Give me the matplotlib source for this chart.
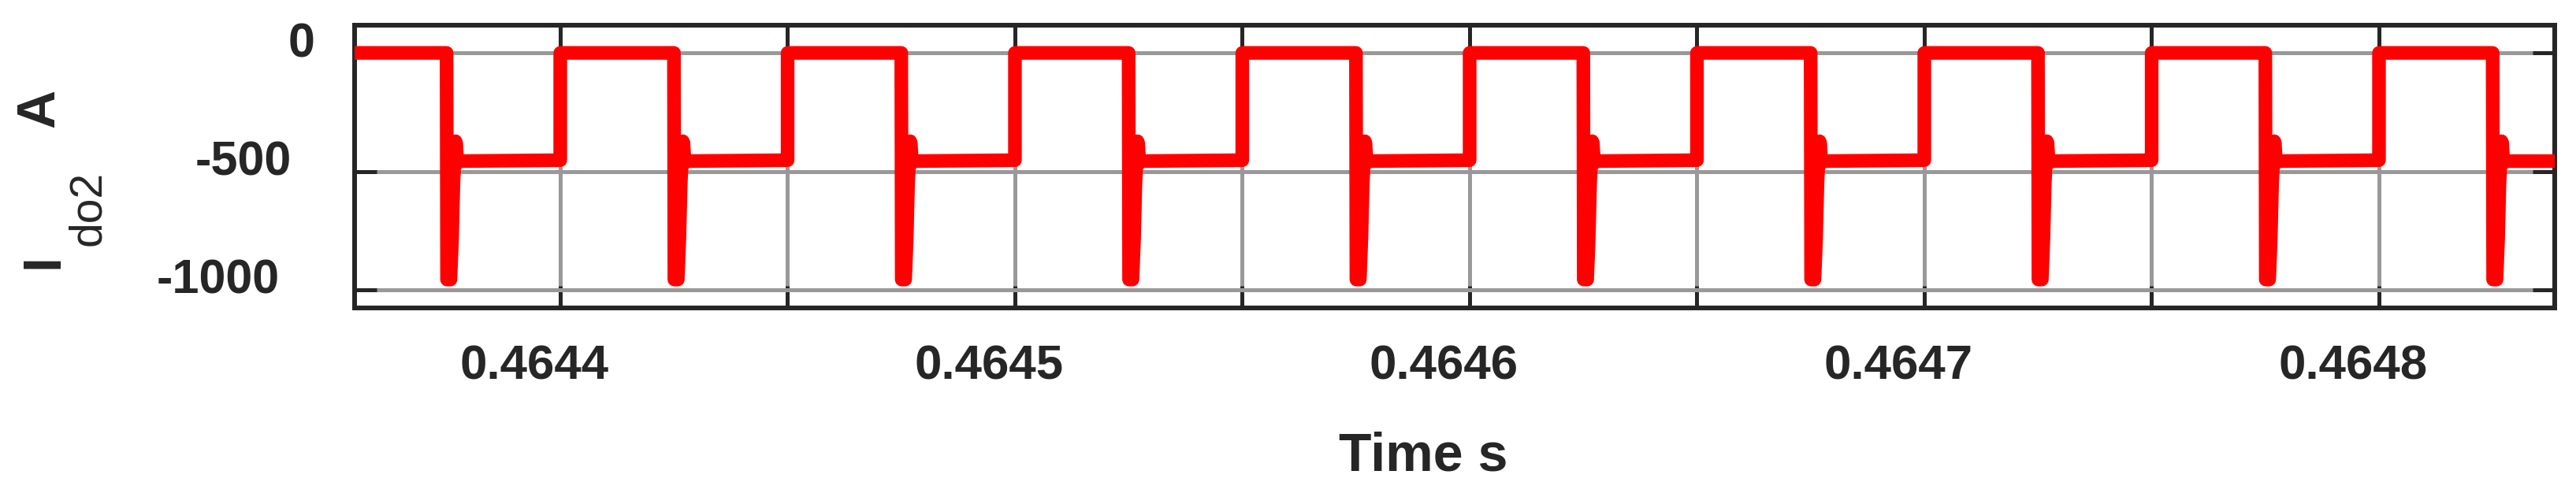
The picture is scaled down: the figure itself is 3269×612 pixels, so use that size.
import numpy as np
import matplotlib
matplotlib.use("Agg")
import matplotlib.pyplot as plt
from matplotlib.transforms import ScaledTranslation

# switching instants (s)
fall_times = [0.464375, 0.464425, 0.464475, 0.464525, 0.464575,
              0.464625, 0.464675, 0.464725, 0.464775, 0.464825]
rise_times = [0.4644, 0.46445, 0.4645, 0.46455, 0.4646,
              0.46465, 0.4647, 0.46475, 0.4648]
# commutation spike right after each falling edge (offset in us, current in A)
spike_dt_us = [0.0, 0.1, 0.85, 1.2, 1.5, 1.95, 2.1, 2.35, 2.7]
spike_amp = [0, -957, -957, -785, -552, -373, -380, -465, -457]
low_level_end = -453     # current just before the rising edge
high_level = 0
trace_start, trace_end = 0.46435, 0.46485

yticks = [0, -500, -1000]
ytick_labels = ["0", "-500", "-1000"]
xticks = [0.4644, 0.46445, 0.4645, 0.46455, 0.4646,
          0.46465, 0.4647, 0.46475, 0.4648]
xlabel_ticks = [0.4644, 0.4645, 0.4646, 0.4647, 0.4648]
xtick_labels = ["0.4644", "0.4645", "0.4646", "0.4647", "0.4648"]

W, H, DPI = 3269, 612, 100
TXT = "#262626"
plt.rcParams["font.family"] = ["Liberation Sans", "DejaVu Sans"]

# stitch the waveform together from the edges and the spike shape
t = [trace_start]
cur = [high_level]
for k, f in enumerate(fall_times):
    for dt, a in zip(spike_dt_us, spike_amp):
        t.append(f + dt * 1e-6)
        cur.append(a)
    if k < len(rise_times):
        r = rise_times[k]
        t += [r, r]
        cur += [low_level_end, high_level]
t.append(trace_end)
cur.append(spike_amp[-1])

fig = plt.figure(figsize=(W / DPI, H / DPI), dpi=DPI)
ax = fig.add_axes([450 / W, 1 - 391 / H, (3242 - 450) / W, (391 - 32) / H])

ax.plot(t, cur, color="#ff0000", linewidth=12.5,
        solid_joinstyle="round", solid_capstyle="round", zorder=3)

ax.set_xlim(0.46435477, 0.46483865)
ax.set_ylim(-1077, 117)
ax.set_xticks(xticks)
ax.set_yticks(yticks)
ax.grid(True, color="#999999", linewidth=3.6)
ax.set_axisbelow(True)
ax.tick_params(direction="in", length=20, width=3.6, color=TXT,
               top=True, right=True, labelbottom=False, labelleft=False)
for sp in ax.spines.values():
    sp.set_linewidth(4.3)
    sp.set_color(TXT)


def px_shift(dx, dy):
    return ScaledTranslation(dx / DPI, dy / DPI, fig.dpi_scale_trans)


# tick labels sit a bit off their ticks in the original export
ytick_dx = [-50, -80, -95]
for v, lab, dx in zip(yticks, ytick_labels, ytick_dx):
    ax.text(0, v, lab, transform=ax.get_yaxis_transform() + px_shift(dx, -5),
            ha="right", va="baseline", fontsize=44, fontweight="bold", color=TXT)

for v, lab in zip(xlabel_ticks, xtick_labels):
    ax.text(v, 0, lab, transform=ax.get_xaxis_transform() + px_shift(-33, -91),
            ha="center", va="baseline", fontsize=44.5, fontweight="bold", color=TXT)

fig.text(1806.5 / W, 1 - 597 / H, "Time s", ha="center", va="baseline",
         fontsize=49, fontweight="bold", color=TXT)

# y label: I (bold) + subscript do2 + unit A, rotated
lbl = dict(rotation=90, rotation_mode="anchor", ha="left", va="baseline", color=TXT)
fig.text(73 / W, 1 - 341 / H, "I", fontsize=49, fontweight="bold", **lbl)
fig.text(127 / W, 1 - 312 / H, "do2", fontsize=41, fontweight="normal", **lbl)
fig.text(68 / W, 1 - 162 / H, "A", fontsize=49, fontweight="bold", **lbl)

fig.savefig("out.png", dpi=DPI)
